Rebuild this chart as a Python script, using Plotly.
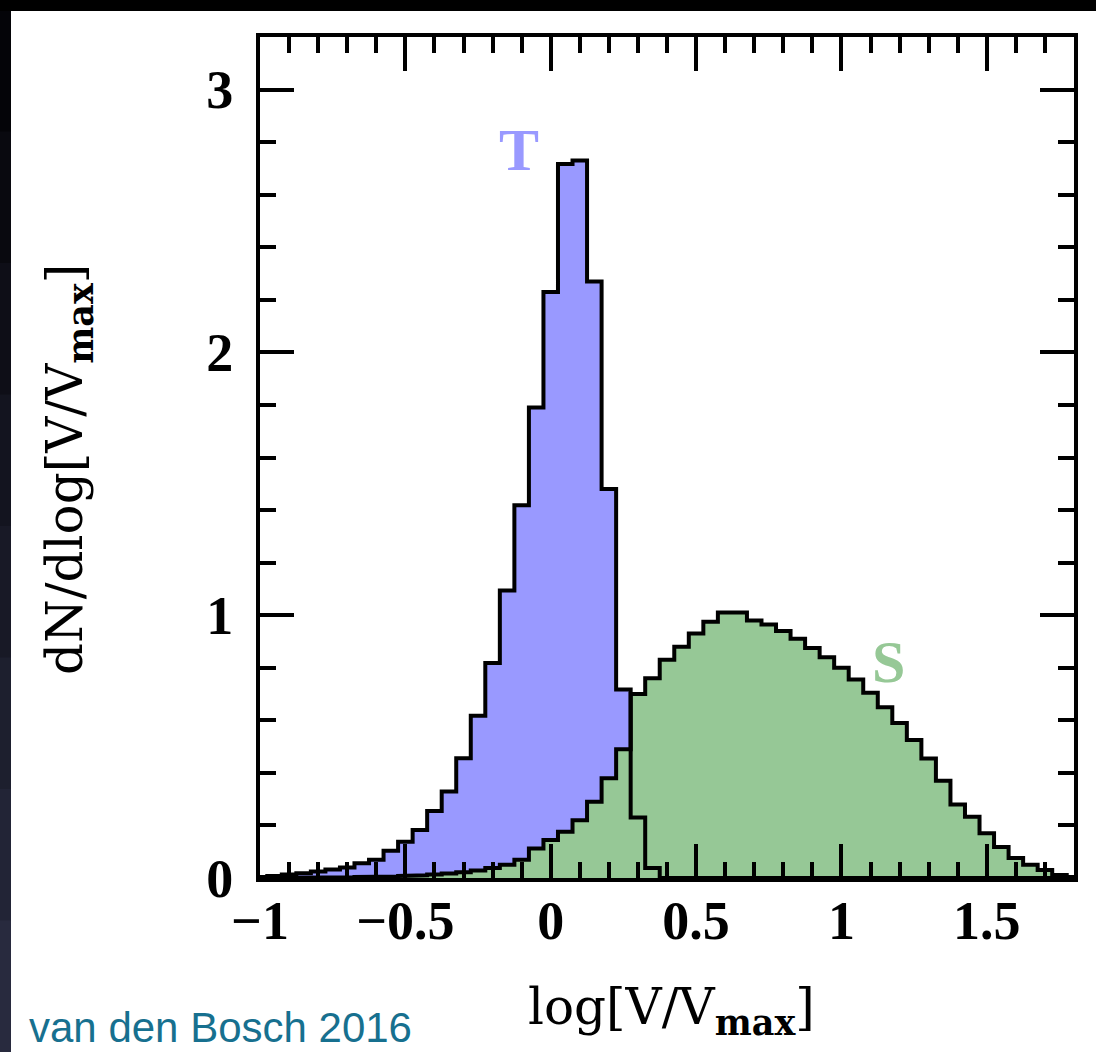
import plotly.graph_objects as go

# ---------------- data ----------------
bin_width = 0.05
bin_centers = [-1.00, -0.95, -0.90, -0.85, -0.80, -0.75, -0.70, -0.65, -0.60, -0.55,
               -0.50, -0.45, -0.40, -0.35, -0.30, -0.25, -0.20, -0.15, -0.10, -0.05,
               0.00, 0.05, 0.10, 0.15, 0.20, 0.25, 0.30, 0.35, 0.40, 0.45,
               0.50, 0.55, 0.60, 0.65, 0.70, 0.75, 0.80, 0.85, 0.90, 0.95,
               1.00, 1.05, 1.10, 1.15, 1.20, 1.25, 1.30, 1.35, 1.40, 1.45,
               1.50, 1.55, 1.60, 1.65, 1.70, 1.75, 1.80]

T_values = [0.004, 0.008, 0.013, 0.018, 0.025, 0.032, 0.040, 0.056, 0.069, 0.104,
            0.138, 0.183, 0.255, 0.329, 0.456, 0.617, 0.818, 1.094, 1.418, 1.790,
            2.230, 2.717, 2.730, 2.270, 1.480, 0.717, 0.230, 0.038, 0.0, 0.0,
            0.0, 0.0, 0.0, 0.0, 0.0, 0.0, 0.0, 0.0, 0.0, 0.0,
            0.0, 0.0, 0.0, 0.0, 0.0, 0.0, 0.0, 0.0, 0.0, 0.0,
            0.0, 0.0, 0.0, 0.0, 0.0, 0.0, 0.0]

S_values = [0.000, 0.000, 0.001, 0.001, 0.002, 0.002, 0.003, 0.004, 0.005, 0.006,
            0.008, 0.010, 0.013, 0.017, 0.022, 0.029, 0.038, 0.050, 0.069, 0.112,
            0.145, 0.176, 0.220, 0.290, 0.380, 0.490, 0.700, 0.760, 0.830, 0.880,
            0.930, 0.975, 1.010, 1.010, 0.980, 0.965, 0.940, 0.910, 0.875, 0.840,
            0.800, 0.755, 0.705, 0.650, 0.590, 0.525, 0.455, 0.370, 0.280, 0.233,
            0.170, 0.118, 0.076, 0.050, 0.030, 0.011, 0.004]

x_tick_vals = [-1, -0.5, 0, 0.5, 1, 1.5]
y_tick_vals = [0, 1, 2, 3]

T_fill = "#9999FF"
S_fill = "#96C896"


def step_path(centers, values, w):
    xs, ys = [centers[0] - w / 2], [0.0]
    for c, v in zip(centers, values):
        xs += [c - w / 2, c + w / 2]
        ys += [v, v]
    xs.append(centers[-1] + w / 2)
    ys.append(0.0)
    return xs, ys


Tx, Ty = step_path(bin_centers, T_values, bin_width)
Sx, Sy = step_path(bin_centers, S_values, bin_width)

fig = go.Figure()
fig.add_trace(go.Scatter(x=Tx, y=Ty, mode="lines", fill="tozeroy", fillcolor=T_fill,
                         line=dict(width=0, color=T_fill), hoverinfo="skip", showlegend=False))
fig.add_trace(go.Scatter(x=Sx, y=Sy, mode="lines", fill="tozeroy", fillcolor=S_fill,
                         line=dict(width=0, color=S_fill), hoverinfo="skip", showlegend=False))
fig.add_trace(go.Scatter(x=Tx, y=Ty, mode="lines", line=dict(width=4, color="black"),
                         hoverinfo="skip", showlegend=False))
fig.add_trace(go.Scatter(x=Sx, y=Sy, mode="lines", line=dict(width=4, color="black"),
                         hoverinfo="skip", showlegend=False))

W, H = 1096, 1052
ML, MR, MT, MB = 260, 22, 37, 174
PW, PH = W - ML - MR, H - MT - MB


def px_to_paper_x(px):
    return (px - ML) / PW


def px_to_paper_y(py):
    return (H - MB - py) / PH


shapes = []
# left dark band (gradient, overlapping strips to avoid seams)
n = 8
for i in range(n):
    t = i / (n - 1)
    col = "rgb(%d,%d,%d)" % (int(4 + 36 * t), int(4 + 38 * t), int(8 + 54 * t))
    shapes.append(dict(type="rect", xref="paper", yref="paper",
                       x0=px_to_paper_x(0), x1=px_to_paper_x(11),
                       y0=px_to_paper_y(H), y1=px_to_paper_y(i * H / n),
                       fillcolor=col, line=dict(width=0), layer="above"))
# top black band
shapes.append(dict(type="rect", xref="paper", yref="paper",
                   x0=px_to_paper_x(0), x1=px_to_paper_x(W),
                   y0=px_to_paper_y(11), y1=px_to_paper_y(0),
                   fillcolor="black", line=dict(width=0), layer="above"))

serif = "DejaVu Serif"
tickfont = dict(family="Liberation Serif", size=54, color="black", weight="bold")

axis_common = dict(showline=True, linewidth=4, linecolor="black", mirror="allticks",
                   ticks="inside", ticklen=34, tickwidth=3.5, tickcolor="black",
                   showgrid=False, zeroline=False, tickfont=tickfont)

fig.update_xaxes(range=[-1, 1.8], tickvals=x_tick_vals, ticklabelstandoff=-8,
                 minor=dict(dtick=0.1, tick0=0, ticks="inside", ticklen=16, tickwidth=3.5,
                            tickcolor="black", showgrid=False),
                 **axis_common)
fig.update_yaxes(range=[0, 3.2], tickvals=y_tick_vals, ticklabelstandoff=12,
                 minor=dict(dtick=0.2, tick0=0, ticks="inside", ticklen=16, tickwidth=3.5,
                            tickcolor="black", showgrid=False),
                 **axis_common)

annotations = [
    dict(text="log[V/V<sub><b>max</b></sub>]", xref="paper", yref="paper",
         x=px_to_paper_x(671), y=px_to_paper_y(1010), showarrow=False,
         font=dict(family=serif, size=50, color="black"), xanchor="center", yanchor="middle"),
    dict(text="dN/dlog[V/V<sub><b>max</b></sub>]", xref="paper", yref="paper",
         x=px_to_paper_x(68), y=px_to_paper_y(470), showarrow=False, textangle=-90,
         font=dict(family=serif, size=50, color="black"), xanchor="center", yanchor="middle"),
    dict(text="van den Bosch 2016", xref="paper", yref="paper",
         x=px_to_paper_x(27), y=px_to_paper_y(1027), showarrow=False,
         font=dict(family="Liberation Sans", size=42, color="#17708F"),
         xanchor="left", yanchor="middle"),
    dict(text="<b>T</b>", x=-0.11, y=2.77, xref="x", yref="y", showarrow=False,
         font=dict(family="Liberation Serif", size=60, color=T_fill)),
    dict(text="<b>S</b>", x=1.162, y=0.82, xref="x", yref="y", showarrow=False,
         font=dict(family="Liberation Serif", size=60, color=S_fill)),
]

fig.update_layout(width=W, height=H, margin=dict(l=ML, r=MR, t=MT, b=MB, autoexpand=False),
                  paper_bgcolor="white", plot_bgcolor="white",
                  shapes=shapes, annotations=annotations, showlegend=False)

fig.write_html("out.html")
